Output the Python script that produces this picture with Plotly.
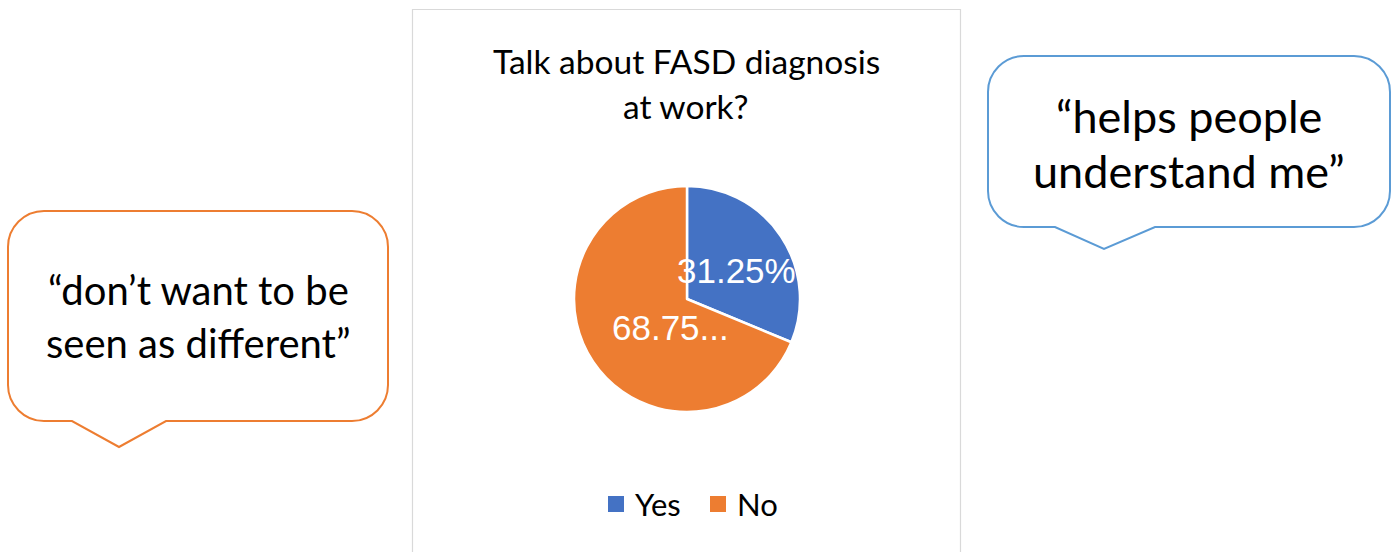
import plotly.graph_objects as go

# Survey answers: share of respondents (percent)
answers = ["Yes", "No"]
shares = [31.25, 68.75]
slice_colors = ["#4472C4", "#ED7D31"]

title_lines = ["Talk about FASD diagnosis", "at work?"]
quote_no_lines = ["“don’t want to be", "seen as different”"]
quote_yes_lines = ["“helps people", "understand me”"]

W, H = 1394, 552
TEXT_FONT = "Lato, Carlito, Calibri, sans-serif"
LABEL_FONT = "Liberation Sans, Arial, sans-serif"

# pie placement in pixels (centre and radius)
cx, cy, r = 687, 299, 113

fig = go.Figure()

fig.add_trace(go.Pie(
    labels=answers,
    values=shares,
    sort=False,
    direction="clockwise",
    rotation=0,
    marker=dict(colors=slice_colors, line=dict(color="white", width=2.5)),
    textinfo="none",
    hoverinfo="skip",
    showlegend=False,
    domain=dict(x=[(cx - r) / W, (cx + r) / W],
                y=[1 - (cy + r) / H, 1 - (cy - r) / H]),
))


def bubble_path(x0, y0, x1, y1, rad, tail):
    """Rounded rectangle with a downward pointing tail."""
    t0, tip, t1 = tail
    k = 0.45 * rad
    return (
        f"M{x0 + rad},{y0} L{x1 - rad},{y0} "
        f"C{x1 - k},{y0} {x1},{y0 + k} {x1},{y0 + rad} "
        f"L{x1},{y1 - rad} "
        f"C{x1},{y1 - k} {x1 - k},{y1} {x1 - rad},{y1} "
        f"L{t1},{y1} L{tip[0]},{tip[1]} L{t0},{y1} "
        f"L{x0 + rad},{y1} "
        f"C{x0 + k},{y1} {x0},{y1 - k} {x0},{y1 - rad} "
        f"L{x0},{y0 + rad} "
        f"C{x0},{y0 + k} {x0 + k},{y0} {x0 + rad},{y0} Z"
    )


shapes = [
    # chart frame
    dict(type="rect", xref="x", yref="y", x0=412.5, y0=9.5, x1=960.5, y1=570,
         line=dict(color="#D9D9D9", width=1.2), fillcolor="rgba(0,0,0,0)", layer="below"),
    # left speech bubble
    dict(type="path", xref="x", yref="y",
         path=bubble_path(8, 211, 388, 421, 36, (72, (119, 447), 166)),
         line=dict(color="#ED7D31", width=2), fillcolor="white"),
    # right speech bubble
    dict(type="path", xref="x", yref="y",
         path=bubble_path(988, 56, 1390, 227, 36, (1055, (1104, 249), 1155)),
         line=dict(color="#5B9BD5", width=2), fillcolor="white"),
]

annotations = []


def add_lines(lines, x, ys, size):
    for txt, y in zip(lines, ys):
        annotations.append(dict(x=x, y=y, xref="x", yref="y", text=txt, showarrow=False,
                                font=dict(family=TEXT_FONT, size=size, color="#000000"),
                                align="center"))


add_lines(title_lines, 686, [61, 106], 33.5)
add_lines(quote_no_lines, 198, [290, 343], 40)
add_lines(quote_yes_lines, 1189, [116, 171], 45)

# percentage labels, text derived from the shares
total = sum(shares)
pct = [f"{v / total * 100:.2f}%" for v in shares]
label_text = [pct[0], pct[1][:-1] + "..."]
label_pos = [(736, 270), (670, 327)]
for txt, (lx, ly) in zip(label_text, label_pos):
    annotations.append(dict(x=lx, y=ly, xref="x", yref="y", text=txt, showarrow=False,
                            font=dict(family=LABEL_FONT, size=35, color="white")))

# legend: colour swatch followed by the answer name
legend_x = [608, 710]
legend_y = 504
for name, color, lx in zip(answers, slice_colors, legend_x):
    shapes.append(dict(type="rect", xref="x", yref="y", x0=lx, x1=lx + 16,
                       y0=legend_y - 8, y1=legend_y + 8,
                       line=dict(width=0), fillcolor=color))
    annotations.append(dict(x=lx + 25, y=legend_y, xref="x", yref="y", text=name,
                            showarrow=False, xanchor="left",
                            font=dict(family=TEXT_FONT, size=31, color="#000000")))

fig.update_layout(
    width=W, height=H,
    margin=dict(l=0, r=0, t=0, b=0),
    paper_bgcolor="white", plot_bgcolor="white",
    xaxis=dict(range=[0, W], visible=False, fixedrange=True),
    yaxis=dict(range=[H, 0], visible=False, fixedrange=True),
    shapes=shapes,
    annotations=annotations,
    showlegend=False,
)

fig.write_html("out.html")
